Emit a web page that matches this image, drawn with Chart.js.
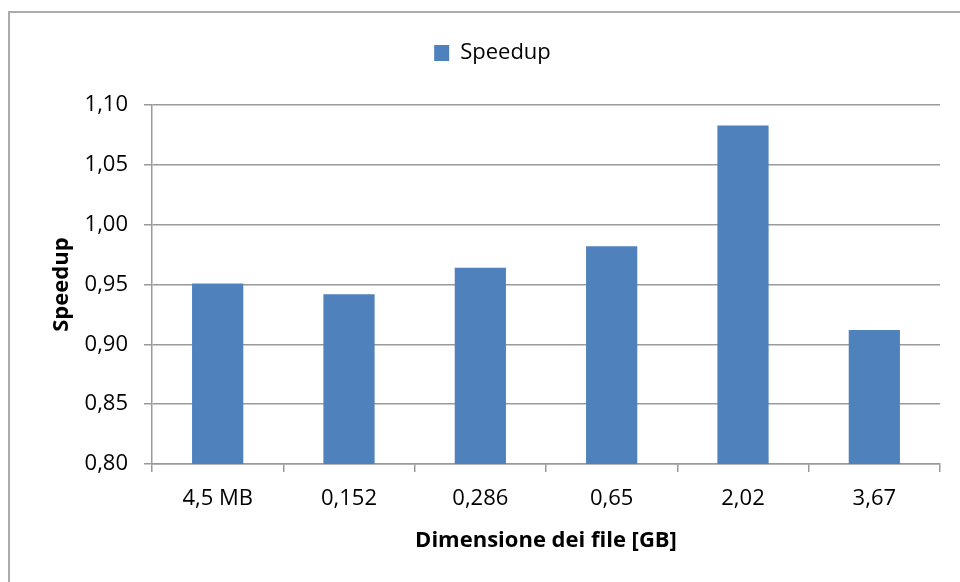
<!DOCTYPE html>
<html>
<head>
<meta charset="utf-8">
<style>
  html, body { margin: 0; padding: 0; background: #fff; }
  #wrap { width: 960px; height: 582px; }
</style>
<script src="https://cdn.jsdelivr.net/npm/chart.js@4/dist/chart.umd.min.js"></script>
</head>
<body>
<div id="wrap"><canvas id="myChart" width="960" height="582"></canvas></div>
<script>
// dati
const categorie = ['4,5 MB', '0,152', '0,286', '0,65', '2,02', '3,67'];
const speedup = [0.951, 0.942, 0.964, 0.982, 1.083, 0.912];
const yMin = 0.80;
const yMax = 1.10;
const yStep = 0.05;

const font = 'Open Sans';
const grigio = '#9a9a9a';

// cornice grigia attorno al grafico
const cornice = {
    id: 'cornice',
    beforeDraw(chart) {
        const c = chart.ctx;
        c.save();
        c.fillStyle = '#fff';
        c.fillRect(0, 0, chart.width, chart.height);
        c.strokeStyle = '#ababab';
        c.lineWidth = 2;
        c.strokeRect(9, 12, 2000, 2000);
        c.restore();
    }
};

const ctx = document.getElementById('myChart');

new Chart(ctx, {
    type: 'bar',
    data: {
        labels: categorie,
        datasets: [{
            label: 'Speedup',
            data: speedup,
            backgroundColor: '#4F81BD',
            borderWidth: 0,
            categoryPercentage: 1,
            barPercentage: 0.39
        }]
    },
    plugins: [cornice],
    options: {
        responsive: false,
        animation: false,
        layout: { padding: { left: 45, right: 20, top: 3, bottom: 0 } },
        plugins: {
            legend: {
                display: true,
                position: 'top',
                weight: 3000,
                labels: {
                    boxWidth: 15,
                    boxHeight: 16,
                    color: '#000',
                    font: { family: font, size: 22 },
                    padding: 39
                }
            },
            // spazio vuoto tra legenda e area del grafico
            subtitle: {
                display: true,
                text: ' ',
                weight: 1500,
                font: { size: 1 },
                padding: { top: 0, bottom: 30 }
            },
            tooltip: { enabled: false }
        },
        scales: {
            x: {
                grid: {
                    display: true,
                    drawOnChartArea: false,
                    drawTicks: true,
                    tickLength: 8,
                    color: grigio,
                    lineWidth: 1.5,
                    offset: true
                },
                border: { display: true, color: grigio, width: 1.5 },
                ticks: {
                    color: '#000',
                    font: { family: font, size: 22 },
                    padding: 14,
                    maxRotation: 0
                },
                title: {
                    display: true,
                    text: 'Dimensione dei file [GB]',
                    color: '#000',
                    font: { family: font, size: 22, weight: 'bold' },
                    padding: { top: 0, bottom: 28 }
                },
                afterFit(scale) { scale.height = 118; }
            },
            y: {
                min: yMin,
                max: yMax,
                grid: {
                    color: grigio,
                    lineWidth: 1.5,
                    tickLength: 8
                },
                border: { display: true, color: grigio, width: 1.5 },
                ticks: {
                    stepSize: yStep,
                    color: '#000',
                    font: { family: font, size: 22 },
                    padding: 16,
                    callback: v => v.toFixed(2).replace('.', ',')
                },
                title: {
                    display: true,
                    text: 'Speedup',
                    color: '#000',
                    font: { family: font, size: 22, weight: 'bold' },
                    padding: { top: 4, bottom: 0 }
                },
                afterFit(scale) { scale.width = 107; }
            }
        }
    }
});
</script>
</body>
</html>
